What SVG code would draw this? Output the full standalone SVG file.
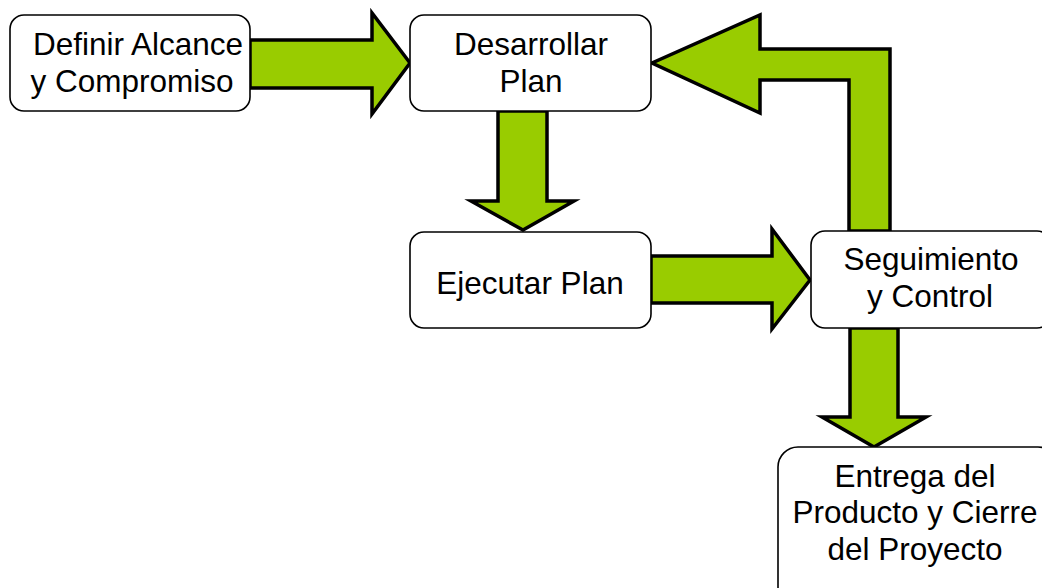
<svg xmlns="http://www.w3.org/2000/svg" width="1042" height="588" viewBox="0 0 1042 588">
<style>
.box{fill:#fff;stroke:#000;stroke-width:1.6}
.arr{fill:#99cc00;stroke:#000;stroke-width:3.5;stroke-linejoin:miter;stroke-miterlimit:10}
text{font-family:"Liberation Sans",Arial,sans-serif;font-size:31.5px;fill:#000;text-anchor:middle}
</style>
<rect width="1042" height="588" fill="#fff"/>
<g id="connectors">
<polygon class="arr" points="250,40 372,40 372,13 410,63 372,114 372,88 250,88"/>
<polygon class="arr" points="498,111 547,111 547,201 574,201 523,230 471,201 498,201"/>
<polygon class="arr" points="651,256 772,256 772,229 810,280 772,329 772,303 651,303"/>
<polygon class="arr" points="849,231 849,80 760,80 760,113 652,63 760,15 760,49 890,49 890,231"/>
<polygon class="arr" points="850,328 898,328 898,417 926,417 874,447 822,417 850,417"/>
</g>
<g id="node-definir">
<rect class="box" x="10" y="15" width="240" height="96" rx="14"/>
<text x="138" y="55">Definir Alcance</text>
<text x="132" y="92">y Compromiso</text>
</g>
<g id="node-desarrollar">
<rect class="box" x="410" y="15" width="241" height="96" rx="14"/>
<text x="531" y="55">Desarrollar</text>
<text x="531" y="92">Plan</text>
</g>
<g id="node-ejecutar">
<rect class="box" x="410" y="232" width="241" height="96" rx="14"/>
<text x="530" y="294">Ejecutar Plan</text>
</g>
<g id="node-seguimiento">
<rect class="box" x="811" y="231" width="240" height="97" rx="14"/>
<text x="931" y="270">Seguimiento</text>
<text x="930" y="307">y Control</text>
</g>
<g id="node-entrega">
<rect class="box" x="778" y="447" width="280" height="160" rx="20"/>
<text x="915" y="487">Entrega del</text>
<text x="915" y="523">Producto y Cierre</text>
<text x="915" y="560">del Proyecto</text>
</g>
</svg>
